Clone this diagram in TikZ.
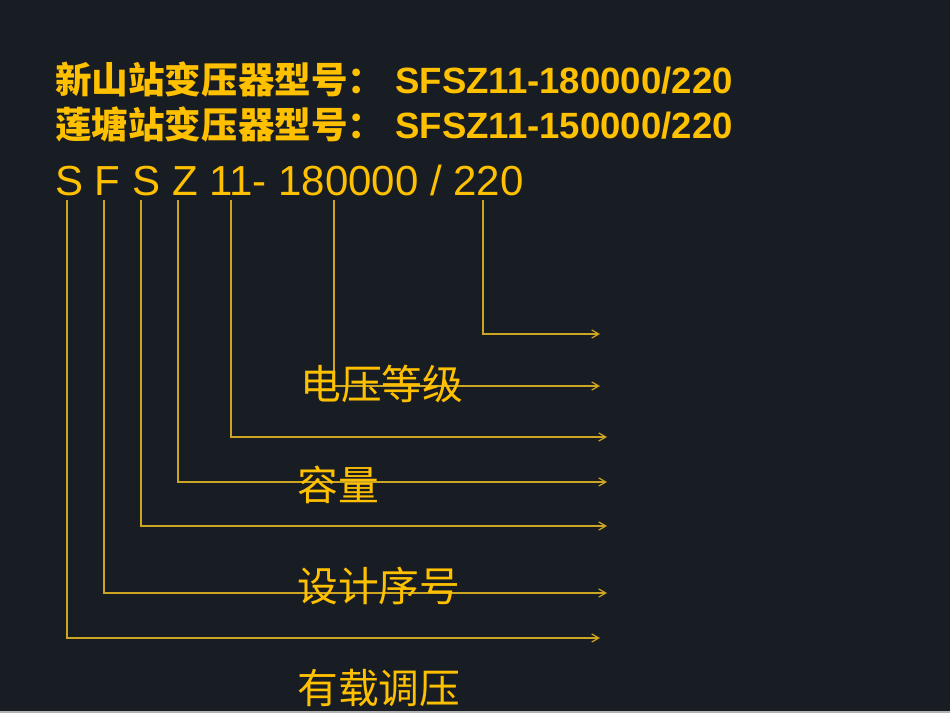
\documentclass[tikz,border=0pt]{standalone}
\usepackage{fontspec}
\setmainfont{Liberation Sans}
\newfontfamily\cjk{Noto Sans CJK SC}
\usetikzlibrary{arrows.meta}
\definecolor{bgdark}{RGB}{24,29,36}
\definecolor{gold}{RGB}{255,192,0}
\definecolor{goldline}{RGB}{205,165,35}

\begin{document}
\begin{tikzpicture}[x=0.02cm, y=-0.02cm,
    lead/.style={goldline, line width=0.7pt, -{Straight Barb[length=4pt, width=4.6pt]}},
    titletext/.style={anchor=base west, inner sep=0pt, text=gold, font=\fontsize{20.8}{24}\selectfont\bfseries},
    codetext/.style={anchor=base west, inner sep=0pt, text=gold, font=\fontsize{23.9}{28}\selectfont},
    parttext/.style={anchor=west, inner sep=0pt, text=gold, font=\fontsize{23.2}{28}\selectfont\cjk}]
    \fill[bgdark] (0,0) rectangle (950,713);
    \fill[gray!60] (0,711) rectangle (950,713);

    \node[titletext] (xinshan) at (55,93) {{\cjk 新山站变压器型号：}\hspace{0.6pt} SFSZ11-180000/220};
    \node[titletext] (liantang) at (55,138) {{\cjk 莲塘站变压器型号：}\hspace{0.6pt} SFSZ11-150000/220};
    \node[codetext] (code) at (55,195) {S F S Z 11- 180000 / 220};

    \coordinate (tS1) at (67,200);
    \coordinate (tF) at (104,200);
    \coordinate (tS2) at (141,200);
    \coordinate (tZ) at (178,200);
    \coordinate (t11) at (231,200);
    \coordinate (tcap) at (334,200);
    \coordinate (tvolt) at (483,200);

    \coordinate (hvolt) at (600,334);
    \coordinate (hcap) at (600,386);
    \coordinate (h11) at (607,437);
    \coordinate (hZ) at (607,482);
    \coordinate (hS2) at (607,526);
    \coordinate (hF) at (607,593);
    \coordinate (hS1) at (600,638);

    \draw[lead] (tvolt) |- (hvolt);
    \draw[lead] (tcap) |- (hcap);
    \draw[lead] (t11) |- (h11);
    \draw[lead] (tZ) |- (hZ);
    \draw[lead] (tS2) |- (hS2);
    \draw[lead] (tF) |- (hF);
    \draw[lead] (tS1) |- (hS1);

    \node[parttext] (voltage) at (300,384) {电压等级};
    \node[parttext] (capacity) at (297,485) {容量};
    \node[parttext] (design) at (297,586) {设计序号};
    \node[parttext] (onload) at (297,688) {有载调压};
\end{tikzpicture}
\end{document}
